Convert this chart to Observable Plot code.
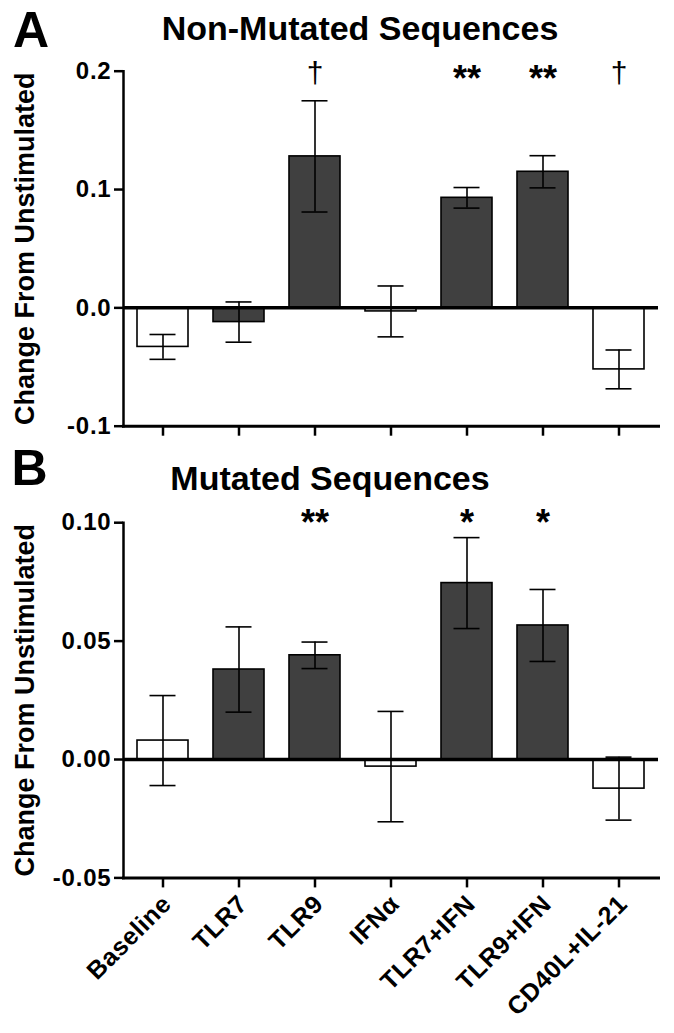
<!DOCTYPE html>
<html>
<head>
<meta charset="utf-8">
<script src="https://cdn.jsdelivr.net/npm/d3@7"></script>
<script src="https://cdn.jsdelivr.net/npm/@observablehq/plot@0.6"></script>
<style>
  html, body { margin: 0; padding: 0; background: white; }
  #fig { position: relative; width: 674px; height: 1033px; overflow: hidden; font-family: "Liberation Sans", Arial, sans-serif; color: black; }
  .abs { position: absolute; line-height: 1; font-weight: bold; white-space: nowrap; }
  .panel { position: absolute; left: 0; }
  g[aria-label="y-axis tick label"] text { letter-spacing: 0.8px; }
  g[aria-label="x-axis tick label"] text { letter-spacing: 0.5px; }
</style>
</head>
<body>
<div id="fig">
  <div id="panelA" class="panel" style="top:0px"></div>
  <div id="panelB" class="panel" style="top:445px"></div>
  <div class="abs" style="left:13px; top:4.7px; font-size:50px;">A</div>
  <div class="abs" style="left:60px; width:600px; text-align:center; top:11px; font-size:34px;">Non-Mutated Sequences</div>
  <div class="abs" style="left:11.5px; top:442.7px; font-size:50px;">B</div>
  <div class="abs" style="left:30px; width:600px; text-align:center; top:461px; font-size:34px;">Mutated Sequences</div>
</div>
<script>
const categories = ["Baseline", "TLR7", "TLR9", "IFNα", "TLR7+IFN", "TLR9+IFN", "CD40L+IL-21"];
const openBars = ["Baseline", "IFNα", "CD40L+IL-21"];

const nonMutMean = [-0.033, -0.012, 0.128, -0.003, 0.093, 0.115, -0.052];
const nonMutSem  = [0.0105, 0.017, 0.047, 0.0215, 0.0087, 0.0136, 0.0164];
const nonMutSig  = ["", "", "†", "", "**", "**", "†"];
const nonMutTicks = [-0.1, 0.0, 0.1, 0.2];

const mutMean = [0.008, 0.038, 0.044, -0.003, 0.0745, 0.0566, -0.0123];
const mutSem  = [0.019, 0.018, 0.0056, 0.0233, 0.0192, 0.0152, 0.0133];
const mutSig  = ["", "", "**", "", "*", "*", ""];
const mutTicks = [-0.05, 0.00, 0.05, 0.10];

const yLabel = "Change From Unstimulated";

function panel({mean, sem, sig, ticks, decimals, height, marginTop, marginBottom, showLabels, starDy}) {
  const rows = categories.map((cat, i) => ({cat, mean: mean[i], sem: sem[i], sig: sig[i]}));
  const domain = [ticks[0], ticks[ticks.length - 1]];
  return Plot.plot({
    width: 674,
    height,
    marginLeft: 123,
    marginRight: 16,
    marginTop,
    marginBottom,
    style: {fontFamily: "'Liberation Sans', Arial, sans-serif", color: "black", background: "transparent", overflow: "visible"},
    x: {domain: categories, paddingInner: 0.333, paddingOuter: 0.1665, axis: null},
    y: {domain, axis: null},
    color: {type: "identity"},
    marks: [
      Plot.barY(rows, {x: "cat", y: "mean", fill: d => openBars.includes(d.cat) ? "white" : "#404040", stroke: "black", strokeWidth: 1.6}),
      Plot.ruleX(rows, {x: "cat", y1: d => d.mean - d.sem, y2: d => d.mean + d.sem, stroke: "black", strokeWidth: 1.6}),
      Plot.tickY(rows, {x: "cat", y: d => d.mean - d.sem, insetLeft: 12.5, insetRight: 12.5, stroke: "black", strokeWidth: 1.6}),
      Plot.tickY(rows, {x: "cat", y: d => d.mean + d.sem, insetLeft: 12.5, insetRight: 12.5, stroke: "black", strokeWidth: 1.6}),
      Plot.ruleY([0], {stroke: "black", strokeWidth: 3.5}),
      Plot.frame({anchor: "left", stroke: "black", strokeWidth: 2.5}),
      Plot.frame({anchor: "bottom", stroke: "black", strokeWidth: 3}),
      Plot.axisY({ticks, tickSize: 9, tickPadding: 3, tickFormat: d => d.toFixed(decimals), fontSize: 24, fontWeight: "bold", strokeWidth: 2.5, label: null}),
      Plot.axisX({tickSize: 10, tickPadding: 9, strokeWidth: 2.5, tickFormat: () => "", label: null}),
      ...(showLabels ? [Plot.axisX({tickSize: 0, tickPadding: 22, dx: 4, tickRotate: -45, fontSize: 25, fontWeight: "bold", label: null})] : []),
      Plot.text(rows.filter(d => d.sig.startsWith("*")), {x: "cat", frameAnchor: "top", lineAnchor: "middle", text: "sig", dy: starDy, fontSize: 36, fontWeight: "bold"}),
      Plot.text(rows.filter(d => d.sig === "†"), {x: "cat", frameAnchor: "top", lineAnchor: "middle", text: "sig", dy: 2, fontSize: 30, fontWeight: "normal"}),
      Plot.text([yLabel], {frameAnchor: "left", textAnchor: "middle", lineAnchor: "middle", dx: -98, rotate: -90, text: d => d, fontSize: 27, fontWeight: "bold"})
    ]
  });
}

document.getElementById("panelA").append(panel({
  mean: nonMutMean, sem: nonMutSem, sig: nonMutSig, ticks: nonMutTicks, decimals: 1,
  height: 445, marginTop: 70.7, marginBottom: 19.3, showLabels: false, starDy: 8
}));
document.getElementById("panelB").append(panel({
  mean: mutMean, sem: mutSem, sig: mutSig, ticks: mutTicks, decimals: 2,
  height: 588, marginTop: 77.2, marginBottom: 155.6, showLabels: true, starDy: 1
}));
</script>
</body>
</html>
